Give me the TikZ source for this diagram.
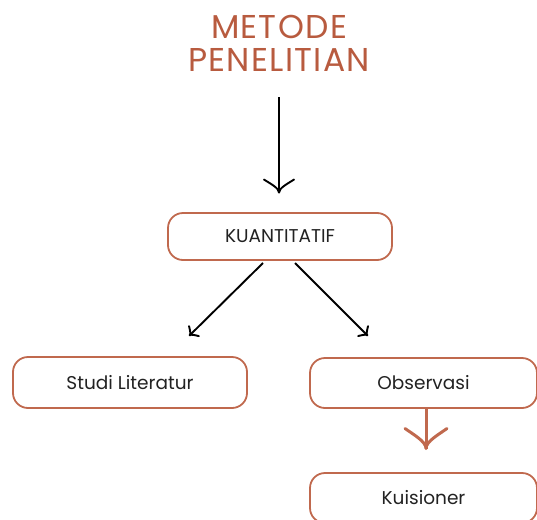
\documentclass[tikz,border=0pt]{standalone}
\usepackage{fontspec}
\setmainfont{Poppins}
\usetikzlibrary{arrows.meta}
\definecolor{rust}{HTML}{B85B3F}
\definecolor{boxline}{HTML}{C0694E}
\definecolor{ink}{HTML}{222222}
\makeatletter
\pgfdeclarearrow{
  name = Cup,
  defaults = {length = 13pt, width = 30pt, line width = 0pt 1},
  parameters = {\the\pgfarrowlength,\the\pgfarrowwidth,\the\pgfarrowlinewidth},
  setup code = {
    \pgfarrowssettipend{0.5\pgfarrowlinewidth}
    \pgfarrowssetlineend{0pt}
    \pgfarrowssetvisualbackend{-\pgfarrowlength}
    \pgfarrowssetbackend{-\pgfarrowlength}
    \pgfarrowshullpoint{0pt}{0pt}
    \pgfarrowsupperhullpoint{-\pgfarrowlength}{.5\pgfarrowwidth}
    \pgfarrowssave\pgfarrowlength
    \pgfarrowssave\pgfarrowwidth
    \pgfarrowssave\pgfarrowlinewidth
  },
  drawing code = {
    \pgfsetdash{}{0pt}
    \pgfsetlinewidth{\pgfarrowlinewidth}
    \pgfsetroundcap
    \pgfsetroundjoin
    \pgfpathmoveto{\pgfqpoint{-\pgfarrowlength}{.5\pgfarrowwidth}}
    \pgfpathcurveto{\pgfqpoint{-.7\pgfarrowlength}{.3\pgfarrowwidth}}{\pgfqpoint{-.35\pgfarrowlength}{0pt}}{\pgfqpoint{0pt}{0pt}}
    \pgfpathcurveto{\pgfqpoint{-.35\pgfarrowlength}{0pt}}{\pgfqpoint{-.7\pgfarrowlength}{-.3\pgfarrowwidth}}{\pgfqpoint{-\pgfarrowlength}{-.5\pgfarrowwidth}}
    \pgfusepathqstroke
  }
}
\makeatother
\tikzset{
  boxnode/.style={draw=boxline, line width=1.8pt, rounded corners=15pt, fill=white,
    font=\fontsize{18.5}{22}\selectfont, text=ink, inner sep=0pt},
  blackarrow/.style={draw=black, line width=1.9pt},
  title/.style={text=rust, font=\fontsize{33}{33}\selectfont\addfontfeatures{LetterSpace=4}, align=center, inner sep=0pt}
}
\begin{document}
\begin{tikzpicture}[x=1pt,y=-1pt]
\useasboundingbox (0,0) rectangle (537,519);
\clip (0,0) rectangle (537,519);
\node[title] (ttl) at (279,43) {METODE\\PENELITIAN};
\node[boxnode, minimum width=224pt, minimum height=47pt] (kuan) at (280,236.5) {KUANTITATIF};
\node[boxnode, minimum width=234pt, minimum height=51pt] (studi) at (130,382.5) {Studi Literatur};
\node[boxnode, minimum width=227pt, minimum height=50pt] (obs) at (423.5,383) {Observasi};
\node[boxnode, minimum width=227pt, minimum height=50pt] (kuis) at (423.5,498) {Kuisioner};
\coordinate (a1s) at (279,97);
\coordinate (a1e) at (279,193.5);
\coordinate (dls) at (263,263);
\coordinate (dle) at (189,336);
\coordinate (drs) at (295,263);
\coordinate (dre) at (368,336);
\coordinate (oe) at (426,450);
\draw[blackarrow, -{Cup[length=13pt,width=30pt]}] (a1s) -- (a1e);
\draw[blackarrow, -{Cup[length=6pt,width=14pt]}] (dls) -- (dle);
\draw[blackarrow, -{Cup[length=6pt,width=14pt]}] (drs) -- (dre);
\draw[draw=boxline, line width=3pt, -{Cup[length=20pt,width=42pt]}] (obs.south -| oe) -- (oe);
\end{tikzpicture}
\end{document}
